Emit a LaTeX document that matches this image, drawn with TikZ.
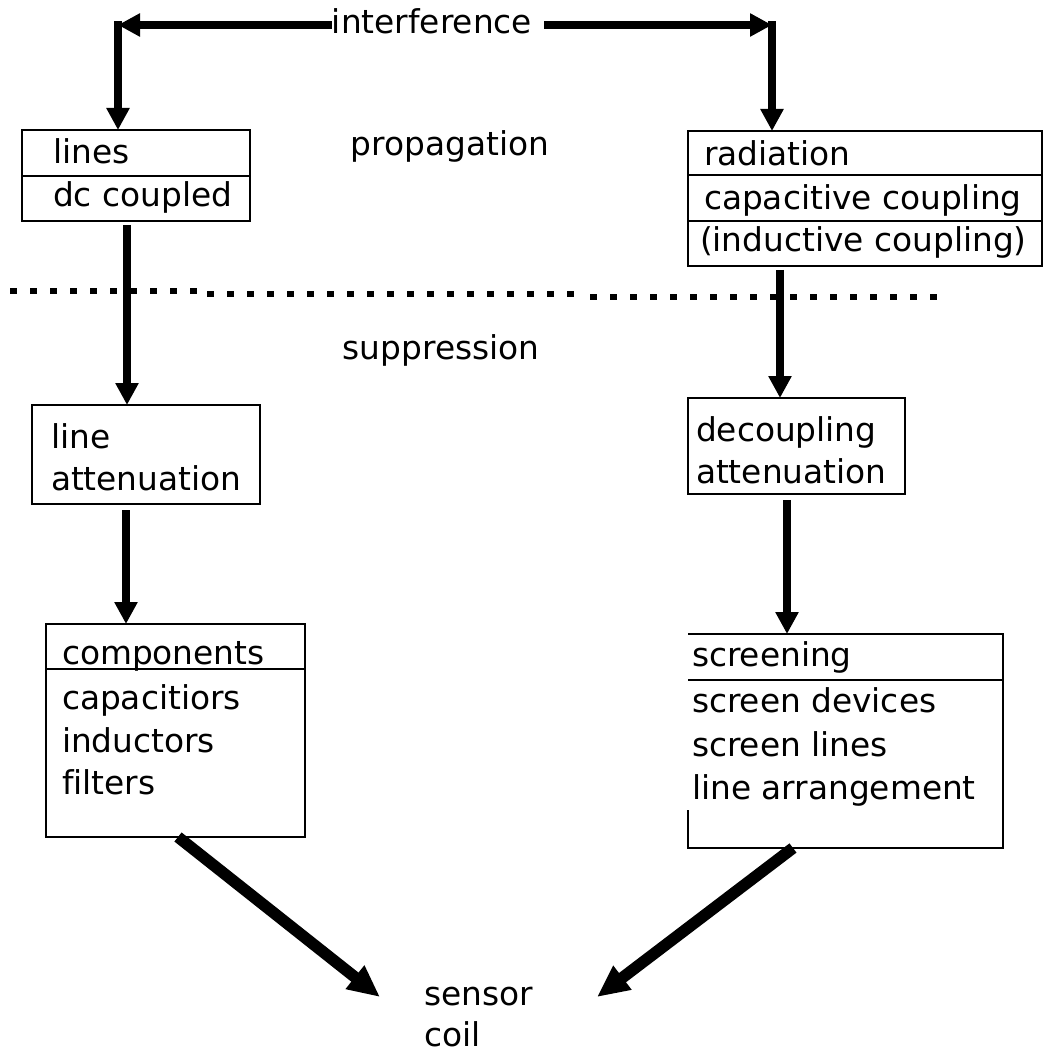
\documentclass[tikz,border=0pt]{standalone}
\usepackage{fontspec}
\setmainfont{DejaVu Sans}[Ligatures=NoCommon]
\usetikzlibrary{arrows.meta,fit,calc}
\begin{document}
\begin{tikzpicture}[x=0.5pt,y=-0.5pt,
  box/.style={draw, line width=1pt, inner sep=0pt, outer sep=0pt},
  nobox/.style={inner sep=0pt, outer sep=0pt},
  txt/.style={inner sep=0pt, outer sep=0pt, anchor=base west, font=\fontsize{16.4pt}{19pt}\selectfont},
  ctxt/.style={txt, anchor=base},
  flow/.style={line width=3.8pt, -{Triangle[length=11pt,width=11pt]}},
  big/.style={line width=5.8pt, -{Triangle[length=16pt,width=14pt]}},
  dotline/.style={line width=3.2pt, dash pattern=on 3.5pt off 6.5pt},
  div/.style={line width=1pt}]
\useasboundingbox (0,0) rectangle (1045,1053);

% boxes
\node[box, fit={(22,130) (250,221)}] (b1) {};
\node[box, fit={(688,131) (1042,266)}] (b2) {};
\node[box, fit={(32,405) (260,504)}] (b3) {};
\node[box, fit={(46,624) (305,837)}] (b4) {};
\node[box, fit={(688,398) (905,494)}] (b5) {};
\node[nobox, fit={(688,634) (1003,848)}] (b6) {};
\draw[div] ([yshift=19pt]b6.south west) -- (b6.south west) -- (b6.south east) -- (b6.north east) -- (b6.north west);

% dividers
\coordinate (d1) at (0,176);
\coordinate (d2) at (0,175);
\coordinate (d3) at (0,221);
\coordinate (d4) at (0,669);
\coordinate (d6) at (0,680);
\draw[div] (b1.west |- d1) -- (b1.east |- d1);
\draw[div] (b2.west |- d2) -- (b2.east |- d2);
\draw[div] (b2.west |- d3) -- (b2.east |- d3);
\draw[div] (b4.west |- d4) -- (b4.east |- d4);
\draw[div] (b6.west |- d6) -- (b6.east |- d6);

% texts
\node[txt] (t1a) at (53,164) {lines};
\node[txt] (t1b) at (53,207) {dc coupled};
\node[txt] (t2a) at (704,166) {radiation};
\node[txt] (t2b) at (704,210) {capacitive coupling};
\node[txt] (t2c) at (700,252) {(inductive coupling)};
\node[txt] (t3a) at (51,448) {line};
\node[txt] (t3b) at (51,490) {attenuation};
\node[txt] (t4a) at (62,664) {components};
\node[txt] (t4b) at (62,709) {capacitiors};
\node[txt] (t4c) at (62,752) {inductors};
\node[txt] (t4d) at (62,794) {filters};
\node[txt] (t5a) at (696,441) {decoupling};
\node[txt] (t5b) at (696,483) {attenuation};
\node[txt] (t6a) at (692,666) {screening};
\node[txt] (t6b) at (692,712) {screen devices};
\node[txt] (t6c) at (692,756) {screen lines};
\node[txt] (t6d) at (692,799) {line arrangement};

\node[ctxt] (intf) at (432,34) {interference};
\node[ctxt] (prop) at (450,156) {propagation};
\node[ctxt] (supp) at (441,359) {suppression};
\node[txt] (sens) at (424,1005) {sensor};
\node[txt] (coil) at (424,1046) {coil};

% top arrows
\coordinate (cL) at (118,25);
\coordinate (cR) at (772,25);
\draw[flow] (intf.west |- cL) -- (cL);
\draw[flow] ([xshift=6pt]intf.east |- cR) -- (cR);
\draw[flow] ([yshift=1.9pt]cL) -- (b1.north -| cL);
\draw[flow] ([yshift=1.9pt]cR) -- (b2.north -| cR);

% vertical flow arrows
\coordinate (xL1) at (127,0);
\coordinate (xL2) at (126,0);
\coordinate (xR1) at (780,0);
\coordinate (xR2) at (787,0);
\draw[flow, shorten <=2pt] (b1.south -| xL1) -- (b3.north -| xL1);
\draw[flow, shorten <=3pt] (b3.south -| xL2) -- (b4.north -| xL2);
\draw[flow, shorten <=2pt] (b2.south -| xR1) -- (b5.north -| xR1);
\draw[flow, shorten <=3pt] (b5.south -| xR2) -- (b6.north -| xR2);

% diagonal arrows to sensor coil
\coordinate (xL3) at (178,0);
\coordinate (xR3) at (793,0);
\coordinate (tipL) at (380,997);
\coordinate (tipR) at (597,997);
\draw[big] (b4.south -| xL3) -- (tipL);
\draw[big] (b6.south -| xR3) -- (tipR);

% dotted separator
\draw[dotline] (10,291) -- (203,291);
\draw[dotline] (207,294) -- (580,294);
\draw[dotline] (590,297) -- (950,297);
\end{tikzpicture}
\end{document}
